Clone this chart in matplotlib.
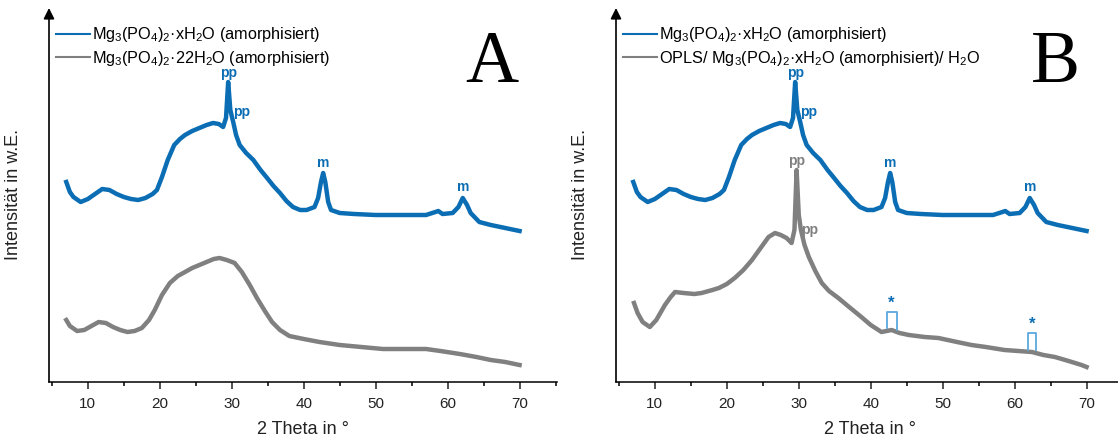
import matplotlib
matplotlib.use("Agg")
import matplotlib.pyplot as plt
import numpy as np

plt.rcParams['font.family'] = ['Liberation Sans', 'DejaVu Sans']
plt.rcParams['mathtext.fontset'] = 'custom'
plt.rcParams['mathtext.rm'] = 'Liberation Sans'
plt.rcParams['mathtext.it'] = 'Liberation Sans:italic'
plt.rcParams['mathtext.bf'] = 'Liberation Sans:bold'

# ---------------- data (intensity in arbitrary units) ----------------
blue_x = [7.0, 7.5, 8.0, 9.0, 10.0, 11.0, 12.0, 13.0, 14.0, 15.0, 16.0, 17.0, 18.0, 19.0,
          19.6, 20.3, 21.1, 22.0, 22.8, 23.5, 24.5, 25.5, 26.5, 27.4, 28.2, 28.8, 29.2,
          29.5, 29.8, 30.2, 30.6, 31.1, 32.0, 33.0, 34.0, 34.8, 35.8, 36.7, 37.6, 38.5,
          39.5, 40.4, 41.5, 42.0, 42.4, 42.7, 43.0, 43.4, 43.8, 45.0, 47.0, 50.0, 53.0,
          55.0, 57.0, 58.3, 58.7, 59.3, 60.7, 61.5, 62.1, 62.7, 63.2, 64.4, 66.0, 68.0, 70.0]
blue_y = [200, 190, 185, 180, 183, 188, 193, 192, 188, 185, 183, 182, 184, 188,
          192, 205, 222, 237, 243, 247, 251, 254, 257, 259, 258, 255, 264,
          300, 272, 260, 247, 237, 229, 222, 212, 205, 196, 189, 181, 175,
          172, 172, 175, 184, 200, 209, 200, 180, 172, 169, 168, 167, 167,
          167, 167, 170, 171, 168, 169, 175, 184, 177, 169, 160, 157, 154, 151]

greyA_x = [7.0, 7.5, 8.5, 9.5, 10.5, 11.5, 12.5, 13.5, 14.5, 15.5, 16.5, 17.5, 18.5, 19.3,
           20.3, 21.4, 22.5, 23.5, 24.5, 25.5, 26.5, 27.5, 28.3, 29.3, 30.4, 31.4, 32.5,
           33.5, 34.6, 35.6, 36.7, 38.0, 40.0, 42.2, 45.0, 48.0, 51.0, 54.0, 57.0, 59.0,
           61.7, 64.0, 66.0, 68.0, 70.0]
greyA_y = [62, 56, 51, 52, 56, 60, 59, 55, 52, 50, 51, 54, 62, 72,
           87, 99, 106, 110, 114, 117, 120, 123, 124, 122, 119, 110, 97,
           84, 71, 60, 52, 46, 43, 40, 37, 35, 33, 33, 33, 31,
           28, 25, 22, 20, 17]

greyB_x = [7.1, 7.6, 8.3, 9.3, 10.2, 11.0, 11.4, 12.2, 12.8, 14.0, 15.5, 16.5, 18.0, 18.9,
           20.0, 21.1, 22.3, 23.5, 24.7, 25.8, 26.7, 27.5, 28.3, 29.0, 29.4, 29.7, 30.0,
           30.3, 30.8, 31.4, 32.3, 33.2, 34.2, 35.5, 37.0, 38.7, 40.0, 41.5, 42.9, 44.0,
           45.3, 47.5, 49.4, 52.0, 54.0, 56.0, 58.6, 60.5, 62.4, 64.0, 65.6, 67.5, 69.3, 70.0]
greyB_y = [79, 69, 60, 55, 62, 72, 77, 85, 90, 89, 88, 89, 92, 94,
           98, 104, 112, 122, 134, 145, 149, 147, 144, 139, 152, 212, 167,
           152, 137, 125, 111, 99, 91, 84, 75, 65, 57, 50, 52, 49,
           47, 45, 44, 40, 37, 35, 32, 31, 30, 27, 25, 21, 17, 15]

# reflex markers
labels_A = ["pp", "pp", "m", "m"]
lab_x = [29.6, 30.2, 42.7, 62.1]
lab_y = [302, 270, 212, 188]
greyB_lab_x = [29.7, 30.3]
greyB_lab_y = [214, 152]
star_x0 = [42.2, 61.8]
star_x1 = [43.6, 63.0]
star_top = [70, 49]
star_bot0 = [54, 32]
star_bot1 = [52, 32]

xticks_major = [10, 20, 30, 40, 50, 60, 70]

blue = '#0b6db3'
grey = '#808080'
lblue = '#5aa8de'

W, H = 1118, 441
fig = plt.figure(figsize=(W / 100, H / 100), dpi=100)

def make_ax(left_px, right_px):
    ax = fig.add_axes([left_px / W, 1 - 382 / H, (right_px - left_px) / W, (382 - 8) / H])
    ax.set_xlim(4.6, 75.2)
    ax.set_ylim(0, 374)
    for s in ['top', 'right', 'left']:
        ax.spines[s].set_visible(False)
    ax.spines['bottom'].set_linewidth(1.1)
    ax.set_yticks([])
    ax.set_xticks(xticks_major)
    ax.set_xticks(np.arange(5, 76, 5), minor=True)
    ax.tick_params(axis='x', which='major', direction='out', length=5, width=1.1,
                   labelsize=11, pad=6, colors='#222222')
    ax.tick_params(axis='x', which='minor', direction='out', length=3, width=1.1)
    ax.annotate('', xy=(0, 1.0), xytext=(0, 0), xycoords='axes fraction',
                textcoords='axes fraction',
                arrowprops=dict(arrowstyle='-|>', color='black', lw=1.2,
                                mutation_scale=16, shrinkA=0, shrinkB=0))
    ax.set_xlabel('2 Theta in °', fontsize=13, color='#222222', labelpad=7)
    ax.set_ylabel('Intensität in w.E.', fontsize=13, color='#222222')
    ax.yaxis.set_label_coords(-27 / (right_px - left_px), 0.5)
    return ax

lab1 = r'Mg$_3$(PO$_4$)$_2$·xH$_2$O (amorphisiert)'
lab2A = r'Mg$_3$(PO$_4$)$_2$·22H$_2$O (amorphisiert)'
lab2B = r'OPLS/ Mg$_3$(PO$_4$)$_2$·xH$_2$O (amorphisiert)/ H$_2$O'

def legend(ax, l2):
    h1, = ax.plot([], [], color=blue, lw=1.5)
    h2, = ax.plot([], [], color=grey, lw=1.5)
    ax.legend([h1, h2], [lab1, l2], loc='upper left', frameon=False, fontsize=11.7,
              bbox_to_anchor=(-0.003, 0.975), handlelength=2.1, handletextpad=0.15,
              labelspacing=0.28, borderpad=0.3, borderaxespad=0.2)

def peak_labels(ax):
    ax.text(lab_x[0], lab_y[0], labels_A[0], color=blue, fontsize=10, fontweight='bold',
            ha='center', va='bottom')
    ax.text(lab_x[1], lab_y[1], labels_A[1], color=blue, fontsize=10, fontweight='bold',
            ha='left', va='center')
    ax.text(lab_x[2], lab_y[2], labels_A[2], color=blue, fontsize=10, fontweight='bold',
            ha='center', va='bottom')
    ax.text(lab_x[3], lab_y[3], labels_A[3], color=blue, fontsize=10, fontweight='bold',
            ha='center', va='bottom')

# Panel A
axA = make_ax(49, 557)
axA.plot(blue_x, blue_y, color=blue, lw=3.2, solid_joinstyle='round')
axA.plot(greyA_x, greyA_y, color=grey, lw=3.2, solid_joinstyle='round')
peak_labels(axA)
legend(axA, lab2A)
axA.text(0.872, 0.85, 'A', transform=axA.transAxes, fontsize=53,
         family='Liberation Serif', ha='center', va='center')

# Panel B
axB = make_ax(616, 1124)
axB.plot(blue_x, blue_y, color=blue, lw=3.2, solid_joinstyle='round')
axB.plot(greyB_x, greyB_y, color=grey, lw=3.2, solid_joinstyle='round')
peak_labels(axB)
axB.text(greyB_lab_x[0], greyB_lab_y[0], 'pp', color=grey, fontsize=10, fontweight='bold',
         ha='center', va='bottom')
axB.text(greyB_lab_x[1], greyB_lab_y[1], 'pp', color=grey, fontsize=10, fontweight='bold',
         ha='left', va='center')
for x0, x1, t, b0, b1 in zip(star_x0, star_x1, star_top, star_bot0, star_bot1):
    axB.plot([x0, x0, x1, x1], [b0, t, t, b1], color=lblue, lw=1.3)
    axB.text((x0 + x1) / 2, t + 1, '*', color=blue, fontsize=12, fontweight='bold',
             ha='center', va='bottom')
legend(axB, lab2B)
axB.text(0.865, 0.85, 'B', transform=axB.transAxes, fontsize=53,
         family='Liberation Serif', ha='center', va='center')

fig.savefig('out.png', dpi=100)
